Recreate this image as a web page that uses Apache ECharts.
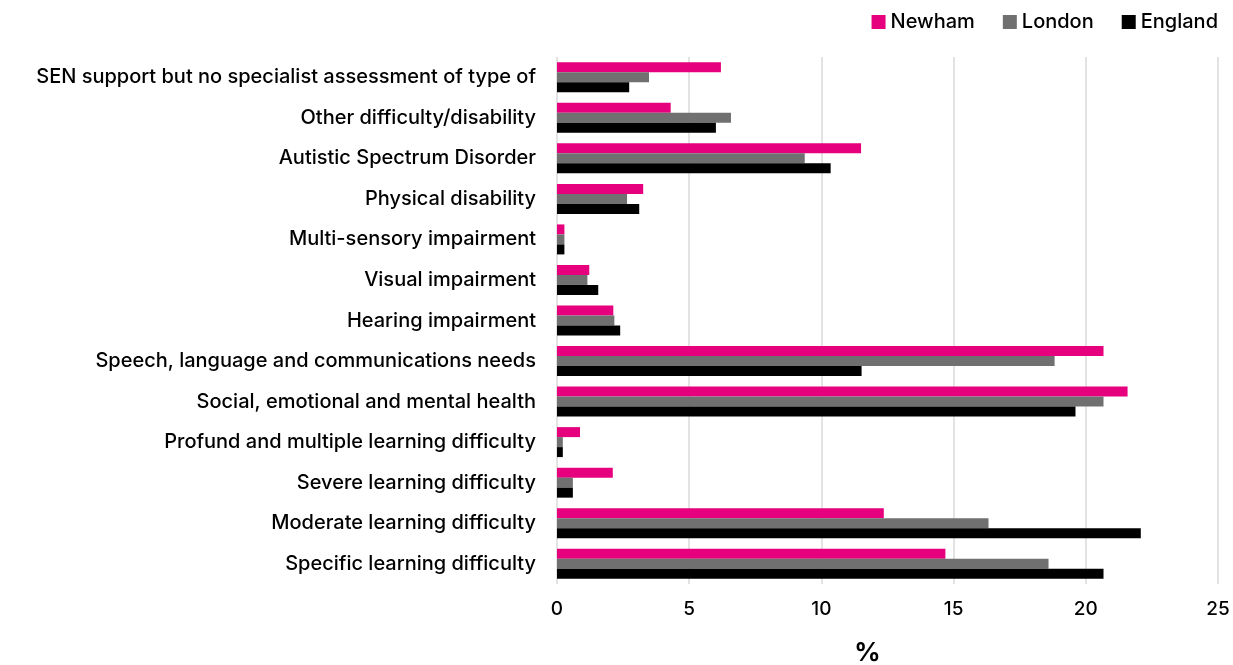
<!DOCTYPE html>
<html>
<head>
<meta charset="utf-8">
<script src="https://cdn.jsdelivr.net/npm/echarts@6/dist/echarts.min.js"></script>
<style>
  html, body { margin: 0; padding: 0; background: #fff; }
  #chart { width: 1233px; height: 665px; }
</style>
</head>
<body>
<div id="chart"></div>
<script>
// SEN primary need categories, listed top to bottom
const categories = [
  'SEN support but no specialist assessment of type of',
  'Other difficulty/disability',
  'Autistic Spectrum Disorder',
  'Physical disability',
  'Multi-sensory impairment',
  'Visual impairment',
  'Hearing impairment',
  'Speech, language and communications needs',
  'Social, emotional and mental health',
  'Profund and multiple learning difficulty',
  'Severe learning difficulty',
  'Moderate learning difficulty',
  'Specific learning difficulty'
];

// Share of pupils (%) by area
const newham  = [6.2, 4.3, 11.5, 3.26, 0.28, 1.22, 2.13, 20.67, 21.58, 0.87, 2.11, 12.36, 14.69];
const london  = [3.48, 6.58, 9.37, 2.65, 0.28, 1.15, 2.17, 18.82, 20.67, 0.22, 0.6, 16.32, 18.59];
const england = [2.73, 6.01, 10.35, 3.11, 0.28, 1.56, 2.39, 11.52, 19.61, 0.22, 0.6, 22.08, 20.67];

const xTicks = [0, 5, 10, 15, 20, 25];

const FONT = 'Inter, Liberation Sans, Arial, sans-serif';

const chart = echarts.init(document.getElementById('chart'));
chart.setOption({
  animation: false,
  textStyle: { fontFamily: FONT },
  legend: {
    top: 7,
    right: 10,
    itemWidth: 14,
    itemHeight: 14,
    itemGap: 28,
    icon: 'rect',
    textStyle: { fontSize: 20, fontWeight: 500, color: '#000', fontFamily: FONT },
    data: ['Newham', 'London', 'England']
  },
  grid: { left: 557, right: 15, top: 57, bottom: 81, containLabel: false, outerBoundsMode: 'none' },
  xAxis: {
    type: 'value',
    min: xTicks[0],
    max: xTicks[xTicks.length - 1],
    interval: 5,
    name: '%',
    nameLocation: 'middle',
    nameGap: 56,
    nameTextStyle: { fontSize: 26, fontWeight: 'bold', color: '#000', fontFamily: FONT, padding: [0, 40, 0, 0] },
    axisLine: { show: false },
    axisTick: { show: false },
    axisLabel: { fontSize: 19, fontWeight: 500, color: '#000', margin: 16, fontFamily: FONT },
    splitLine: { show: true, lineStyle: { color: '#e3e3e3', width: 2 } }
  },
  yAxis: {
    type: 'category',
    inverse: true,
    data: categories,
    axisLine: { show: false },
    axisTick: { show: false },
    axisLabel: { fontSize: 20, fontWeight: 500, color: '#000', margin: 21, fontFamily: FONT, padding: [0, 0, 6, 0] }
  },
  series: [
    { name: 'Newham', type: 'bar', data: newham, itemStyle: { color: '#e6007e' }, barGap: '0%', barCategoryGap: '26%' },
    { name: 'London', type: 'bar', data: london, itemStyle: { color: '#707070' } },
    { name: 'England', type: 'bar', data: england, itemStyle: { color: '#000000' } }
  ]
});
</script>
</body>
</html>
